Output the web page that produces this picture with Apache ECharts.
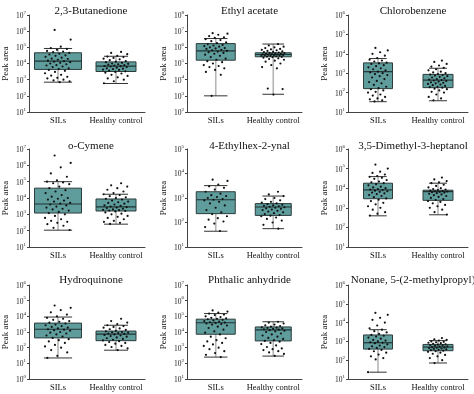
<!DOCTYPE html>
<html><head><meta charset="utf-8">
<script src="https://cdn.jsdelivr.net/npm/echarts@6/dist/echarts.min.js"></script>
<style>html,body{margin:0;padding:0;background:#fff}#c{width:474px;height:394px}</style>
</head><body><div id="c"></div>
<script>
const categories = ['SILs', 'Healthy control'];
const titles = ['2,3-Butanedione', 'Ethyl acetate', 'Chlorobenzene', 'o-Cymene', '4-Ethylhex-2-ynal',
  '3,5-Dimethyl-3-heptanol', 'Hydroquinone', 'Phthalic anhydride', 'Nonane, 5-(2-methylpropyl)'];
const yMinExp = [1, 2, 1, 1, 1, 1, 0, 1, 1];
const yMaxExp = [7, 8, 6, 7, 5, 6, 6, 7, 6];

// box statistics: [lower whisker, Q1, median, Q3, upper whisker]
const boxSILs = [
  [7e2, 4.3e3, 1.4e4, 4.6e4, 8.5e4],
  [1e3, 1.6e5, 6.1e5, 1.7e6, 3.5e6],
  [34, 1.6e2, 1.2e3, 3.4e3, 5.7e3],
  [1.07e2, 1.2e3, 4.3e3, 4e4, 1e5],
  [44, 2.3e2, 8.5e2, 1.8e3, 3.2e3],
  [3.9e2, 2.9e3, 8.2e3, 1.8e4, 3.9e4],
  [22, 4.2e2, 1.5e3, 3.7e3, 9e3],
  [2.5e2, 7.2e3, 3.9e4, 6.6e4, 1.5e5],
  [23, 3.9e2, 8.5e2, 2.2e3, 4.2e3]
];
const boxHC = [
  [5.8e2, 3.2e3, 6.8e3, 1.26e4, 2.8e4],
  [1.25e3, 2.6e5, 3.6e5, 4.6e5, 1.6e6],
  [38, 1.8e2, 4.4e2, 8.7e2, 1.8e3],
  [2.5e2, 1.6e3, 2.9e3, 8.7e3, 1.7e4],
  [56, 1.95e2, 4.3e2, 5.9e2, 1.2e3],
  [4.4e2, 2.4e3, 6.7e3, 7.9e3, 1.8e4],
  [69, 2.8e2, 7.4e2, 1.15e3, 2.7e3],
  [2.9e2, 2.7e3, 1.35e4, 2.1e4, 4.5e4],
  [71, 3.2e2, 5e2, 6.9e2, 1.1e3]
];

// individual samples
const butanedioneSILs = [1.2e6, 3e5, 1.1e5, 9e4, 8e4, 7e4, 6e4, 5.5e4, 5e4, 4.5e4, 4e4, 3.6e4, 3.2e4, 3e4, 2.6e4, 2.3e4, 2e4, 1.9e4, 1.7e4, 1.5e4, 1.4e4, 1.3e4, 1.2e4, 1.1e4, 1e4, 9e3, 8e3, 7.5e3, 6.5e3, 6e3, 5e3, 4.5e3, 4e3, 3.5e3, 3e3, 2.5e3, 2e3, 1.8e3, 1.5e3, 1.3e3, 1.2e3, 1e3, 9e2, 8e2, 7e2];
const butanedioneHC = [5.2e4, 4.5e4, 3.8e4, 3e4, 2.7e4, 2.5e4, 2.2e4, 2e4, 1.8e4, 1.6e4, 1.4e4, 1.3e4, 1.2e4, 1.1e4, 1e4, 9.5e3, 9e3, 8.5e3, 8e3, 7.5e3, 7e3, 6.8e3, 6.5e3, 6e3, 5.5e3, 5e3, 4.8e3, 4.5e3, 4.2e3, 4e3, 3.6e3, 3.3e3, 3e3, 2.7e3, 2.4e3, 2e3, 1.7e3, 1.4e3, 1.2e3, 1e3, 8e2, 6e2];
const ethylSILs = [7.5e6, 7e6, 6e6, 5e6, 4.2e6, 3.8e6, 3.2e6, 2.8e6, 2.4e6, 2e6, 1.8e6, 1.6e6, 1.4e6, 1.3e6, 1.2e6, 1.1e6, 1e6, 9e5, 8.5e5, 8e5, 7e5, 6.5e5, 6e5, 5.5e5, 5e5, 4.5e5, 4e5, 3.5e5, 3e5, 2.5e5, 2e5, 1.7e5, 1.4e5, 1.2e5, 1e5, 8e4, 7e4, 6e4, 5e4, 4e4, 3e4, 2e4, 1e3];
const ethylHC = [1.6e6, 1.3e6, 1.1e6, 1e6, 9e5, 8e5, 7.5e5, 7e5, 6.5e5, 6e5, 5.6e5, 5.2e5, 5e5, 4.8e5, 4.6e5, 4.4e5, 4.2e5, 4e5, 3.9e5, 3.8e5, 3.7e5, 3.6e5, 3.5e5, 3.4e5, 3.3e5, 3.2e5, 3.1e5, 3e5, 2.9e5, 2.8e5, 2.7e5, 2.6e5, 2.5e5, 2.3e5, 2.1e5, 1.9e5, 1.7e5, 1.5e5, 1.3e5, 1e5, 8e4, 6e4, 5e4, 2.8e3, 2.6e3, 1.2e3];
const chloroSILs = [2e4, 1.5e4, 1.2e4, 1e4, 8e3, 6e3, 5e3, 4.5e3, 4e3, 3.5e3, 3.2e3, 3e3, 2.6e3, 2.3e3, 2e3, 1.8e3, 1.6e3, 1.4e3, 1.2e3, 1.1e3, 1e3, 9e2, 8e2, 7e2, 6e2, 5e2, 4e2, 3.5e2, 3e2, 2.5e2, 2e2, 1.7e2, 1.5e2, 1.3e2, 1.1e2, 1e2, 80, 70, 60, 50, 45, 40, 35];
const chloroHC = [4.5e3, 3.8e3, 3e3, 2.5e3, 2.2e3, 1.9e3, 1.6e3, 1.4e3, 1.2e3, 1.1e3, 1e3, 9e2, 8.5e2, 8e2, 7.5e2, 7e2, 6.5e2, 6e2, 5.5e2, 5e2, 4.7e2, 4.4e2, 4.2e2, 4e2, 3.7e2, 3.4e2, 3.2e2, 3e2, 2.8e2, 2.6e2, 2.4e2, 2.2e2, 2e2, 1.9e2, 1.8e2, 1.6e2, 1.5e2, 1.3e2, 1.1e2, 1e2, 80, 60, 50, 40];
const cymeneSILs = [4e6, 1.4e6, 7.5e5, 3.2e5, 2e5, 1.2e5, 1e5, 9e4, 8e4, 7e4, 5e4, 4e4, 3e4, 2.5e4, 2e4, 1.5e4, 1.2e4, 1e4, 9e3, 8e3, 7e3, 6e3, 5e3, 4.5e3, 4e3, 3.5e3, 3e3, 2.6e3, 2.2e3, 2e3, 1.7e3, 1.4e3, 1.2e3, 1e3, 8e2, 6e2, 5e2, 4e2, 3.5e2, 3e2, 2.5e2, 2e2, 1.5e2, 1.1e2];
const cymeneHC = [8e4, 6e4, 5e4, 4e4, 3.2e4, 2.5e4, 2e4, 1.7e4, 1.5e4, 1.3e4, 1.1e4, 1e4, 9e3, 8e3, 7e3, 6e3, 5.5e3, 5e3, 4.5e3, 4e3, 3.6e3, 3.3e3, 3e3, 2.8e3, 2.6e3, 2.4e3, 2.2e3, 2e3, 1.9e3, 1.8e3, 1.7e3, 1.6e3, 1.5e3, 1.3e3, 1.1e3, 1e3, 8e2, 7e2, 6e2, 5e2, 4e2, 3.5e2, 3e2, 2.6e2];
const ynalSILs = [5.6e3, 5e3, 3.5e3, 3e3, 2.6e3, 2.2e3, 1.8e3, 1.5e3, 1.3e3, 1.2e3, 1.1e3, 1e3, 9e2, 8.5e2, 8e2, 7e2, 6e2, 5e2, 4e2, 3.2e2, 2.6e2, 2.2e2, 1.8e2, 1.5e2, 1.3e2, 1.1e2, 90, 65, 45];
const ynalHC = [1.8e3, 1.4e3, 1.2e3, 1e3, 9e2, 8e2, 7e2, 6.5e2, 6e2, 5.6e2, 5.3e2, 5e2, 4.8e2, 4.6e2, 4.4e2, 4.2e2, 4e2, 3.8e2, 3.6e2, 3.4e2, 3.2e2, 3e2, 2.8e2, 2.6e2, 2.4e2, 2.2e2, 2e2, 1.9e2, 1.8e2, 1.6e2, 1.4e2, 1.2e2, 1e2, 80, 56];
const heptanolSILs = [1.6e5, 1e5, 7e4, 6e4, 5e4, 4.2e4, 3.8e4, 3.4e4, 3e4, 2.6e4, 2.2e4, 2e4, 1.8e4, 1.6e4, 1.4e4, 1.2e4, 1.1e4, 1e4, 9e3, 8.5e3, 8e3, 7.5e3, 7e3, 6.5e3, 6e3, 5.5e3, 5e3, 4.5e3, 4e3, 3.5e3, 3e3, 2.6e3, 2.2e3, 1.8e3, 1.5e3, 1.2e3, 1e3, 8e2, 6e2, 5e2, 4e2];
const heptanolHC = [3.5e4, 2.8e4, 2.3e4, 2e4, 1.8e4, 1.5e4, 1.3e4, 1.1e4, 1e4, 9e3, 8.5e3, 8e3, 7.5e3, 7.2e3, 7e3, 6.8e3, 6.5e3, 6.2e3, 6e3, 5.6e3, 5.2e3, 4.8e3, 4.4e3, 4e3, 3.6e3, 3.2e3, 2.8e3, 2.5e3, 2.2e3, 2e3, 1.7e3, 1.4e3, 1.2e3, 1e3, 8e2, 6e2, 4.5e2];
const hydroSILs = [4.9e4, 3.5e4, 2.5e4, 1.8e4, 1.3e4, 1e4, 8e3, 7e3, 6e3, 5e3, 4.5e3, 4e3, 3.5e3, 3e3, 2.7e3, 2.4e3, 2.1e3, 1.9e3, 1.7e3, 1.5e3, 1.4e3, 1.3e3, 1.2e3, 1e3, 9e2, 8e2, 7e2, 6e2, 5e2, 4.2e2, 3.5e2, 3e2, 2.5e2, 2e2, 1.5e2, 1.2e2, 1e2, 70, 50, 30, 22];
const hydroHC = [7e3, 5e3, 4e3, 3.2e3, 2.7e3, 2.4e3, 2.1e3, 1.9e3, 1.7e3, 1.5e3, 1.35e3, 1.2e3, 1.1e3, 1e3, 9.5e2, 9e2, 8.5e2, 8e2, 7.5e2, 7e2, 6.5e2, 6e2, 5.5e2, 5e2, 4.5e2, 4e2, 3.6e2, 3.2e2, 2.9e2, 2.6e2, 2.3e2, 2e2, 1.8e2, 1.5e2, 1.3e2, 1.1e2, 90, 70];
const phthalicSILs = [2.4e5, 2e5, 1.7e5, 1.5e5, 1.3e5, 1.2e5, 1e5, 9e4, 8e4, 7.5e4, 7e4, 6.5e4, 6e4, 5.5e4, 5e4, 4.6e4, 4.2e4, 4e4, 3.8e4, 3.5e4, 3.2e4, 3e4, 2.6e4, 2.2e4, 1.8e4, 1.4e4, 1.1e4, 9e3, 7e3, 5e3, 4e3, 3e3, 2.5e3, 2e3, 1.6e3, 1.3e3, 1e3, 8e2, 6e2, 4.5e2, 3.5e2, 2.5e2];
const phthalicHC = [4.5e4, 4e4, 3.5e4, 3e4, 2.7e4, 2.4e4, 2.2e4, 2e4, 1.9e4, 1.8e4, 1.7e4, 1.6e4, 1.5e4, 1.4e4, 1.3e4, 1.2e4, 1.1e4, 1e4, 8e3, 7e3, 6e3, 5e3, 4.2e3, 3.6e3, 3e3, 2.7e3, 2.4e3, 2e3, 1.7e3, 1.4e3, 1.1e3, 9e2, 8e2, 7e2, 6e2, 5e2, 4e2, 3e2];
const nonaneSILs = [3.3e4, 2.6e4, 1.8e4, 1.4e4, 1e4, 7e3, 5e3, 4.2e3, 3.5e3, 3e3, 2.5e3, 2.2e3, 2e3, 1.8e3, 1.6e3, 1.4e3, 1.2e3, 1.1e3, 1e3, 9e2, 8.5e2, 8e2, 7e2, 6e2, 5.5e2, 5e2, 4.5e2, 4e2, 3.5e2, 3e2, 2.5e2, 2e2, 1.6e2, 1.3e2, 1.1e2, 23];
const nonaneHC = [1.5e3, 1.3e3, 1.2e3, 1.1e3, 1e3, 9.5e2, 9e2, 8.5e2, 8e2, 7.5e2, 7e2, 6.7e2, 6.4e2, 6.1e2, 5.8e2, 5.5e2, 5.3e2, 5e2, 4.8e2, 4.6e2, 4.4e2, 4.2e2, 4e2, 3.8e2, 3.6e2, 3.4e2, 3.2e2, 3e2, 2.8e2, 2.5e2, 2.2e2, 1.9e2, 1.6e2, 1.3e2, 1e2, 70];

const pointsSILs = [butanedioneSILs, ethylSILs, chloroSILs, cymeneSILs, ynalSILs, heptanolSILs, hydroSILs, phthalicSILs, nonaneSILs];
const pointsHC = [butanedioneHC, ethylHC, chloroHC, cymeneHC, ynalHC, heptanolHC, hydroHC, phthalicHC, nonaneHC];

// layout
const FONT = '"Liberation Serif", "Times New Roman", serif';
const colLeft = [27, 187, 348];
const colWidth = [118, 115, 120];
const rowTop = [15, 149, 285];
const rowHeight = [97, 98, 94];
const titleTop = [1, 136, 270];
const boxW = [[47, 40], [39, 36], [29, 30]];
const jitterW = [13, 12, 10];

const chart = echarts.init(document.getElementById('c'), null, {renderer: 'canvas'});
const grid = [], xAxis = [], yAxis = [], series = [], title = [];

for (let k = 0; k < 9; k++) {
  const r = Math.floor(k / 3), c = k % 3;
  grid.push({left: colLeft[c], top: rowTop[r], width: colWidth[c], height: rowHeight[r], containLabel: false});
  title.push({
    text: titles[k], left: colLeft[c] + colWidth[c] / 2, top: titleTop[r], textAlign: 'center',
    textStyle: {fontFamily: FONT, fontSize: 11, fontWeight: 'normal', color: '#111'}
  });
  xAxis.push({
    gridIndex: k, type: 'category', data: categories, boundaryGap: true,
    axisLine: {lineStyle: {color: '#444', width: 1}},
    axisTick: {alignWithLabel: true, length: 2, lineStyle: {color: '#444'}},
    axisLabel: {fontFamily: FONT, fontSize: 8.5, color: '#111', margin: 4, interval: 0}
  });
  yAxis.push({
    gridIndex: k, type: 'log', logBase: 10,
    min: Math.pow(10, yMinExp[k]), max: Math.pow(10, yMaxExp[k]),
    splitNumber: yMaxExp[k] - yMinExp[k],
    name: 'Peak area', nameLocation: 'middle', nameGap: 19, nameRotate: 90,
    nameTextStyle: {fontFamily: FONT, fontSize: 9, color: '#111'},
    splitLine: {show: false},
    axisLine: {show: true, lineStyle: {color: '#444', width: 1}},
    axisTick: {show: true, length: 2, lineStyle: {color: '#444'}},
    axisLabel: {
      margin: 3,
      formatter: v => '{b|10}{s|' + Math.round(Math.log10(v)) + '}',
      rich: {
        b: {fontFamily: FONT, fontSize: 7.5, color: '#222', verticalAlign: 'bottom', lineHeight: 10},
        s: {fontFamily: FONT, fontSize: 5, color: '#222', verticalAlign: 'top', lineHeight: 6}
      }
    }
  });
  const bw = boxW[c];
  series.push({
    type: 'custom', xAxisIndex: k, yAxisIndex: k, z: 2,
    data: [[0].concat(boxSILs[k]), [1].concat(boxHC[k])],
    renderItem: (params, api) => {
      const ci = api.value(0);
      const pMin = api.coord([ci, api.value(1)]);
      const pQ1 = api.coord([ci, api.value(2)]);
      const pMed = api.coord([ci, api.value(3)]);
      const pQ3 = api.coord([ci, api.value(4)]);
      const pMax = api.coord([ci, api.value(5)]);
      const x = pMin[0];
      const w = bw[ci];
      const cap = w * 0.3;
      const wh = {stroke: '#b5b5b5', lineWidth: 1.6};
      const dk = {stroke: '#333', lineWidth: 1};
      return {type: 'group', children: [
        {type: 'line', shape: {x1: x, y1: pQ3[1], x2: x, y2: pMax[1]}, style: wh},
        {type: 'line', shape: {x1: x, y1: pQ1[1], x2: x, y2: pMin[1]}, style: wh},
        {type: 'rect', shape: {x: x - w / 2, y: pQ3[1], width: w, height: pQ1[1] - pQ3[1]},
          style: {fill: '#5f9c9c', stroke: '#2c3c3c', lineWidth: 1}},
        {type: 'line', shape: {x1: x - w / 2, y1: pMed[1], x2: x + w / 2, y2: pMed[1]}, style: {stroke: '#233', lineWidth: 1.2}},
        {type: 'line', shape: {x1: x - cap, y1: pMax[1], x2: x + cap, y2: pMax[1]}, style: dk},
        {type: 'line', shape: {x1: x - cap, y1: pMin[1], x2: x + cap, y2: pMin[1]}, style: dk}
      ]};
    }
  });
  const pts = [];
  pointsSILs[k].forEach((v, i) => pts.push([0, v, i]));
  pointsHC[k].forEach((v, i) => pts.push([1, v, i + 7]));
  const jw = jitterW[c];
  series.push({
    type: 'custom', xAxisIndex: k, yAxisIndex: k, z: 3,
    data: pts,
    renderItem: (params, api) => {
      const p = api.coord([api.value(0), api.value(1)]);
      const idx = api.value(2);
      const off = (((idx * 0.6180339887 + 0.37) % 1) - 0.5) * 2 * jw;
      return {type: 'circle', shape: {cx: p[0] + off, cy: p[1], r: 1.1}, style: {fill: '#111'}};
    }
  });
}

chart.setOption({animation: false, backgroundColor: '#fff', title, grid, xAxis, yAxis, series});
</script>
</body></html>
